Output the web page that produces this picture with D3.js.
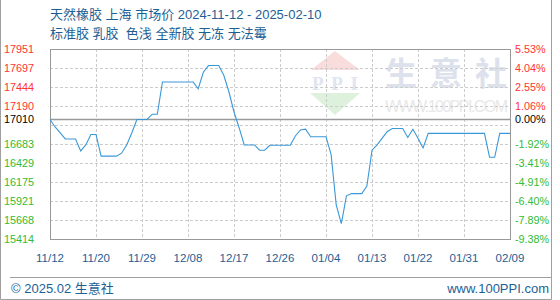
<!DOCTYPE html>
<html>
<head>
<meta charset="utf-8">
<script src="https://cdn.jsdelivr.net/npm/d3@7"></script>
<style>
  body { margin: 0; background: #fff; }
  svg { display: block; font-family: "Liberation Sans", "Noto Sans CJK SC", sans-serif; }
</style>
</head>
<body>
<script>
const svgWidth = 560;
const svgHeight = 300;

// plot box
const plot = { left: 50, right: 510, top: 49, bottom: 239 };

// Data
const titleLine1 = "天然橡胶 上海 市场价 2024-11-12 - 2025-02-10";
const titleLine2 = "标准胶 乳胶  色浅 全新胶 无冻 无法霉";
const xLabels = ["11/12", "11/20", "11/29", "12/08", "12/17", "12/26", "01/04", "01/13", "01/22", "01/31", "02/09"];
const leftTicks = [17951, 17697, 17444, 17190, 17010, 16683, 16429, 16175, 15921, 15668, 15414];
const rightTicks = ["5.53%", "4.04%", "2.55%", "1.06%", "0.00%", "-1.92%", "-3.41%", "-4.91%", "-6.40%", "-7.89%", "-9.38%"];
const basePrice = 17010;
// daily price 2024-11-12 .. 2025-02-10
const prices = [
  17010, 16910, 16830, 16750, 16750, 16750, 16590, 16670, 16810, 16810,
  16520, 16520, 16520, 16520, 16560, 16670, 16830, 17010, 17010, 17010,
  17080, 17080, 17510, 17510, 17510, 17510, 17510, 17510, 17510, 17420,
  17640, 17730, 17730, 17730, 17600, 17380, 17110, 16900, 16670, 16670,
  16670, 16600, 16600, 16665, 16665, 16665, 16665, 16665, 16790, 16870,
  16880, 16780, 16780, 16780, 16780, 16540, 15870, 15620, 15990, 16020,
  16020, 16020, 16120, 16600, 16670, 16760, 16850, 16890, 16890, 16890,
  16770, 16880, 16760, 16630, 16825, 16825, 16825, 16825, 16825, 16825,
  16825, 16825, 16825, 16825, 16825, 16825, 16505, 16505, 16825, 16825,
  16825
];

const blue = "#1d5f95";
const red = "#ff3333";
const green = "#33bb33";

const svg = d3.select("body")
  .append("svg")
  .attr("width", svgWidth)
  .attr("height", svgHeight);

// scales
const yScale = d3.scaleLinear()
  .domain([d3.min(leftTicks), d3.max(leftTicks)])
  .range([plot.bottom, plot.top]);

const xScale = d3.scaleLinear()
  .domain([0, prices.length - 1])
  .range([plot.left, plot.right]);

const labelScale = d3.scalePoint()
  .domain(xLabels)
  .range([plot.left, plot.right]);

// outer frame (left, right, bottom)
svg.append("path")
  .attr("d", `M0.5,0 V299.5 H551.5 V0`)
  .attr("fill", "none")
  .attr("stroke", "#a0a0a0");

// watermark
const wm = svg.append("g");
wm.append("path")
  .attr("d", "M335,51 L311,70 L360,70 Z")
  .attr("fill", "#f9dddd");
wm.append("text")
  .attr("x", 335).attr("y", 90)
  .attr("text-anchor", "middle")
  .attr("font-size", 19)
  .attr("font-weight", "bold")
  .attr("font-family", "Liberation Serif, serif")
  .attr("fill", "#e0e5ef")
  .attr("textLength", 46)
  .text("PPI");
wm.append("path")
  .attr("d", "M310,93 L360,93 L335,115 Z")
  .attr("fill", "#ddf1dd");
wm.append("text")
  .attr("x", 385).attr("y", 85)
  .attr("font-size", 32)
  .attr("font-family", "Noto Sans CJK SC")
  .attr("font-weight", "bold")
  .attr("fill", "#dde1ec")
  .attr("textLength", 122)
  .text("生意社");
wm.append("text")
  .attr("x", 385).attr("y", 112)
  .attr("font-size", 16)
  .attr("fill", "#e8e8e8")
  .attr("textLength", 123)
  .text("WWW.100PPI.COM");

// grid
const gridValues = d3.range(11).map(i => yScale.invert(plot.bottom - i * (plot.bottom - plot.top) / 10));
svg.append("g")
  .selectAll("line")
  .data(gridValues)
  .enter()
  .append("line")
  .attr("x1", plot.left).attr("x2", plot.right)
  .attr("y1", d => Math.round(yScale(d)) + 0.5)
  .attr("y2", d => Math.round(yScale(d)) + 0.5)
  .attr("stroke", "#cccccc")
  .attr("stroke-dasharray", "3,2");

svg.append("g")
  .selectAll("line")
  .data(xLabels)
  .enter()
  .append("line")
  .attr("x1", d => Math.round(labelScale(d)) + 0.5)
  .attr("x2", d => Math.round(labelScale(d)) + 0.5)
  .attr("y1", plot.top).attr("y2", plot.bottom)
  .attr("stroke", "#cccccc")
  .attr("stroke-dasharray", "3,2");

// plot border
svg.append("rect")
  .attr("x", plot.left + 0.5).attr("y", plot.top + 0.5)
  .attr("width", plot.right - plot.left).attr("height", plot.bottom - plot.top)
  .attr("fill", "none")
  .attr("stroke", "#999999");

// base price line
svg.append("line")
  .attr("x1", plot.left).attr("x2", plot.right + 1)
  .attr("y1", yScale(basePrice)).attr("y2", yScale(basePrice))
  .attr("stroke", "#999999")
  .attr("stroke-width", 1.6);

// price line
const line = d3.line()
  .x((d, i) => xScale(i))
  .y(d => yScale(d));

svg.append("path")
  .datum(prices)
  .attr("d", line)
  .attr("fill", "none")
  .attr("stroke", "#3a98d8")
  .attr("stroke-width", 1.1);

// tick colour by side of base
const tickColor = v => v > basePrice ? red : (v < basePrice ? green : "#000");

// left axis labels
svg.append("g")
  .selectAll("text")
  .data(leftTicks)
  .enter()
  .append("text")
  .attr("x", 34)
  .attr("y", d => yScale(d))
  .attr("dy", "0.36em")
  .attr("text-anchor", "end")
  .attr("font-size", 10.8)
  .attr("fill", d => tickColor(d))
  .text(d => d);

// right axis labels
svg.append("g")
  .selectAll("text")
  .data(rightTicks)
  .enter()
  .append("text")
  .attr("x", 515)
  .attr("y", (d, i) => yScale(leftTicks[i]))
  .attr("dy", "0.36em")
  .attr("font-size", 10.8)
  .attr("fill", (d, i) => tickColor(leftTicks[i]))
  .text(d => d);

// x labels
svg.append("g")
  .selectAll("text")
  .data(xLabels)
  .enter()
  .append("text")
  .attr("x", d => labelScale(d))
  .attr("y", 262)
  .attr("text-anchor", "middle")
  .attr("font-size", 11.5)
  .attr("fill", blue)
  .text(d => d);

// titles
svg.append("text")
  .attr("x", 50).attr("y", 19)
  .attr("font-size", 13)
  .attr("fill", blue)
  .text(titleLine1);

svg.append("text")
  .attr("x", 50).attr("y", 38)
  .attr("font-size", 13)
  .attr("fill", blue)
  .attr("xml:space", "preserve")
  .style("white-space", "pre")
  .text(titleLine2);

// footer
svg.append("line")
  .attr("x1", 10).attr("x2", 551)
  .attr("y1", 277.5).attr("y2", 277.5)
  .attr("stroke", "#a0a0a0");

svg.append("text")
  .attr("x", 11).attr("y", 293)
  .attr("font-size", 13)
  .attr("fill", blue)
  .text("© 2025.02 生意社");

svg.append("text")
  .attr("x", 549).attr("y", 293)
  .attr("text-anchor", "end")
  .attr("font-size", 13)
  .attr("fill", blue)
  .text("www.100PPI.com");
</script>
</body>
</html>
